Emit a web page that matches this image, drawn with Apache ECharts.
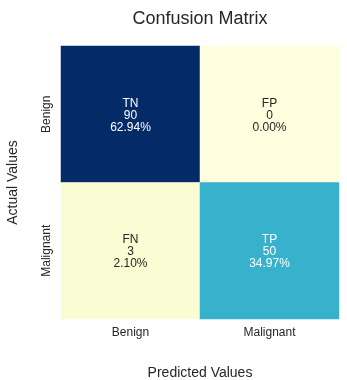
<!DOCTYPE html>
<html><head><meta charset="utf-8">
<script src="https://cdn.jsdelivr.net/npm/echarts@6/dist/echarts.min.js"></script>
<style>html,body{margin:0;padding:0;background:#fff}#c{width:347px;height:380px}</style>
</head><body><div id="c"></div>
<script>
var categories = ['Benign', 'Malignant'];
var cellNames = [['TN', 'FP'], ['FN', 'TP']];
var counts = [[90, 0], [3, 50]];
var percents = [['62.94%', '0.00%'], ['2.10%', '34.97%']];
var colorStops = ['#ffffdf','#eef9b6','#c9eab8','#82cfc0','#44b9cc','#28a8cc','#2666b0','#26389c','#052a68'];

var data = [];
for (var r = 0; r < 2; r++) for (var c = 0; c < 2; c++) {
  var v = counts[r][c];
  data.push({value: [c, r, v], name: cellNames[r][c], pct: percents[r][c],
    label: {color: v > 45 ? '#ffffff' : '#262626'}});
}
var chart = echarts.init(document.getElementById('c'));
var font = 'Liberation Sans, Arial, sans-serif';
chart.setOption({
  animation: false,
  title: {text: 'Confusion Matrix', left: 195, top: 5, textAlign: 'center',
    textStyle: {fontFamily: font, fontSize: 18, fontWeight: 'normal', color: '#262626'}},
  grid: {left: 61, top: 46, width: 278, height: 273, outerBoundsMode: 'none', containLabel: false},
  xAxis: {type: 'category', data: categories, position: 'bottom',
    axisLine: {show: false}, axisTick: {show: false}, splitLine: {show: false},
    axisLabel: {fontFamily: font, fontSize: 12, color: '#262626', margin: 8},
    name: 'Predicted Values', nameLocation: 'middle', nameGap: 47,
    nameTextStyle: {fontFamily: font, fontSize: 14, color: '#262626'}},
  yAxis: {type: 'category', data: categories, inverse: true,
    axisLine: {show: false}, axisTick: {show: false}, splitLine: {show: false},
    axisLabel: {fontFamily: font, fontSize: 12, color: '#262626', rotate: 90, margin: 8},
    name: 'Actual Values', nameLocation: 'middle', nameGap: 41,
    nameTextStyle: {fontFamily: font, fontSize: 14, color: '#262626'}},
  visualMap: {show: false, min: 0, max: 90, dimension: 2, inRange: {color: colorStops}},
  series: [{
    type: 'heatmap', data: data,
    label: {show: true, fontFamily: font, fontSize: 12, lineHeight: 12, offset: [0, 1],
      formatter: function (p) { return p.data.name + '\n' + p.data.value[2] + '\n' + p.data.pct; }},
    emphasis: {disabled: true}
  }]
});
</script></body></html>
